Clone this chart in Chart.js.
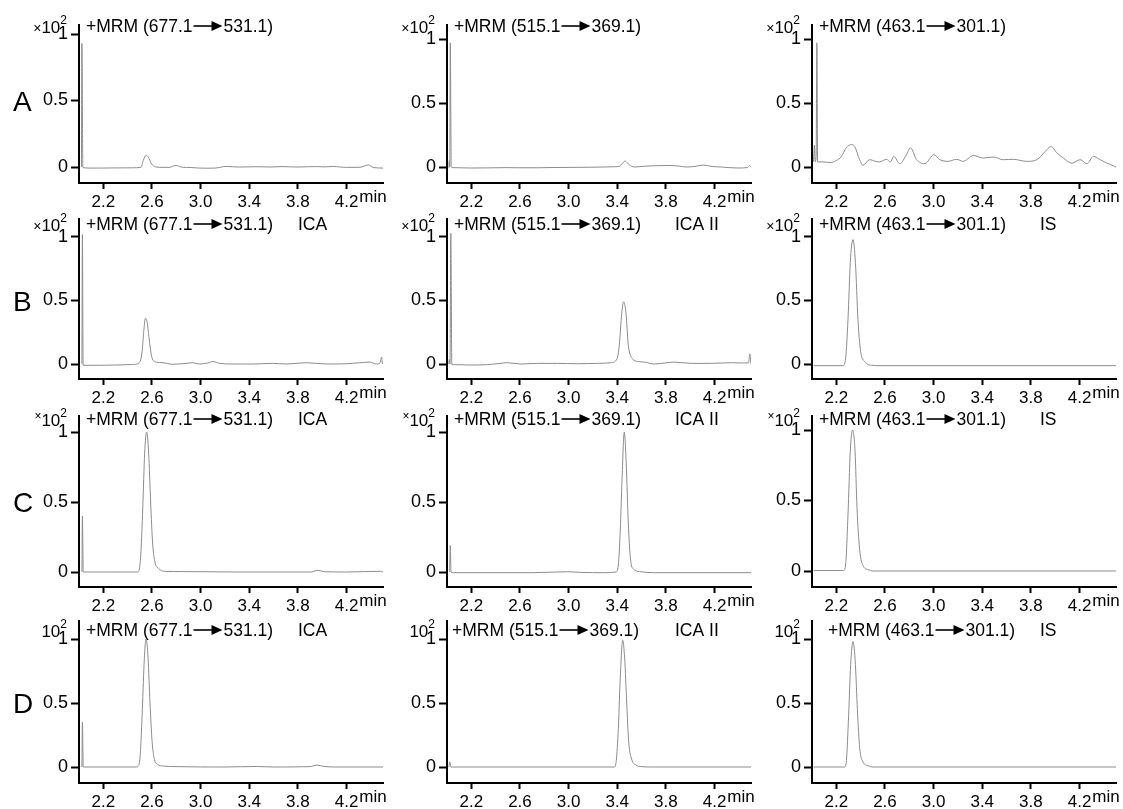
<!DOCTYPE html>
<html>
<head>
<meta charset="utf-8">
<script src="https://cdn.jsdelivr.net/npm/chart.js@4.4.1/dist/chart.umd.min.js"></script>
<style>
  body { margin: 0; background: #fff; }
  #root { position: relative; width: 1123px; height: 809px; overflow: hidden; }
  .panel { position: absolute; }
</style>
</head>
<body>
<div id="root"></div>
<script>
const FONT = "'Liberation Sans', Arial, sans-serif";

// axis ticks
const xTicks = [2.2, 2.6, 3.0, 3.4, 3.8, 4.2];
const yTicks = [0, 0.5, 1];
const timeRange = [2.0, 4.5];

// labels
const rowLetters = ["A", "B", "C", "D"];
const transitions = [["677.1", "531.1"], ["515.1", "369.1"], ["463.1", "301.1"]];
const compounds = ["ICA", "ICA II", "IS"];

// traces: [time (min), intensity (x10^2)]
const traceA1 = [[2.020,0.0],[2.024,0.93],[2.032,-0.005],[2.10,-0.008],[2.17,-0.008],[2.30,-0.007],[2.44,-0.006],[2.51,-0.002],[2.529,0.05],[2.551,0.088],[2.573,0.07],[2.592,0.03],[2.619,0.005],[2.66,-0.002],[2.74,-0.003],[2.797,0.012],[2.85,-0.002],[2.92,-0.004],[2.99,-0.008],[3.06,-0.009],[3.12,-0.008],[3.21,0.004],[3.31,0.0],[3.40,0.001],[3.48,0.002],[3.57,0.0],[3.67,0.003],[3.74,0.001],[3.81,0.0],[3.88,0.002],[3.95,0.003],[4.02,0.001],[4.09,0.004],[4.15,0.0],[4.20,-0.003],[4.31,-0.002],[4.38,0.015],[4.42,-0.004],[4.50,-0.008]];
const traceA2 = [[2.015,-0.005],[2.019,0.05],[2.023,0.0],[2.027,0.97],[2.035,0.0],[2.05,-0.005],[2.194,-0.008],[2.33,-0.007],[2.469,-0.005],[2.60,-0.006],[2.744,-0.006],[2.88,-0.004],[3.019,-0.003],[3.15,-0.002],[3.293,0.0],[3.38,0.002],[3.417,0.005],[3.44,0.025],[3.464,0.047],[3.48,0.035],[3.499,0.018],[3.54,0.0],[3.62,0.006],[3.705,0.01],[3.843,0.012],[3.98,0.0],[4.06,0.008],[4.104,0.015],[4.18,0.004],[4.255,0.0],[4.393,-0.008],[4.47,-0.004],[4.489,0.012],[4.50,0.0]];
const traceA3 = [[2.013,0.04],[2.02,0.17],[2.026,0.04],[2.034,0.08],[2.04,0.97],[2.046,0.04],[2.09,0.04],[2.15,0.035],[2.2,0.05],[2.24,0.08],[2.282,0.15],[2.324,0.175],[2.351,0.16],[2.392,0.057],[2.419,0.013],[2.474,0.057],[2.52,0.045],[2.557,0.04],[2.612,0.06],[2.645,0.04],[2.672,0.083],[2.722,0.026],[2.777,0.096],[2.81,0.15],[2.86,0.057],[2.928,0.026],[3.002,0.096],[3.052,0.057],[3.12,0.044],[3.189,0.06],[3.244,0.044],[3.326,0.09],[3.409,0.07],[3.491,0.078],[3.573,0.057],[3.656,0.06],[3.766,0.044],[3.849,0.057],[3.917,0.12],[3.964,0.16],[4.014,0.11],[4.068,0.07],[4.137,0.03],[4.206,0.057],[4.261,0.026],[4.315,0.083],[4.37,0.057],[4.426,0.03],[4.50,0.0]];
const traceB1 = [[2.024,0.0],[2.028,1.02],[2.034,-0.01],[2.167,-0.01],[2.30,-0.008],[2.44,-0.004],[2.496,0.01],[2.519,0.1],[2.532,0.25],[2.546,0.36],[2.56,0.33],[2.579,0.18],[2.60,0.05],[2.634,0.015],[2.69,0.01],[2.77,-0.002],[2.88,0.005],[2.935,0.01],[2.99,0.0],[3.06,0.008],[3.10,0.02],[3.155,0.005],[3.264,0.0],[3.43,0.0],[3.593,0.005],[3.703,0.0],[3.868,0.01],[4.033,0.0],[4.198,0.002],[4.307,0.01],[4.39,0.015],[4.444,0.0],[4.477,0.01],[4.488,0.055],[4.495,0.0]];
const traceB2 = [[2.015,0.0],[2.019,0.035],[2.025,0.0],[2.031,1.03],[2.04,-0.005],[2.052,-0.005],[2.194,-0.008],[2.332,-0.005],[2.42,0.003],[2.497,0.01],[2.606,0.0],[2.744,0.005],[2.909,0.005],[3.074,0.002],[3.239,0.005],[3.348,0.01],[3.398,0.04],[3.417,0.15],[3.437,0.4],[3.453,0.49],[3.472,0.4],[3.491,0.15],[3.527,0.04],[3.568,0.02],[3.623,0.015],[3.705,0.0],[3.79,0.008],[3.87,0.015],[4.008,0.005],[4.173,0.005],[4.338,0.01],[4.42,0.008],[4.48,0.01],[4.49,0.08],[4.50,0.0]];
const traceB3 = [[2.013,-0.013],[2.255,-0.013],[2.277,0.05],[2.296,0.35],[2.315,0.8],[2.337,0.98],[2.357,0.8],[2.378,0.35],[2.40,0.1],[2.433,0.02],[2.489,-0.01],[2.557,-0.013],[4.50,-0.013]];
const traceC1 = [[2.024,0.0],[2.028,0.40],[2.035,0.0],[2.30,0.0],[2.482,0.0],[2.496,0.02],[2.51,0.15],[2.524,0.45],[2.54,0.85],[2.556,1.0],[2.573,0.85],[2.589,0.5],[2.606,0.2],[2.625,0.07],[2.655,0.025],[2.702,0.005],[2.85,0.003],[3.3,0.0],[3.909,0.0],[3.964,0.012],[4.019,0.002],[4.2,0.0],[4.48,0.005],[4.50,0.0]];
const traceC2 = [[2.022,0.0],[2.027,0.19],[2.033,0.0],[2.05,-0.005],[2.70,-0.005],[2.991,0.002],[3.10,-0.003],[3.293,-0.005],[3.39,0.0],[3.409,0.05],[3.425,0.3],[3.439,0.65],[3.458,1.0],[3.475,0.75],[3.491,0.35],[3.508,0.1],[3.535,0.02],[3.582,0.003],[3.705,-0.005],[4.50,-0.005]];
const traceC3 = [[2.013,0.003],[2.26,0.003],[2.277,0.05],[2.296,0.4],[2.315,0.85],[2.334,1.0],[2.354,0.85],[2.37,0.45],[2.392,0.15],[2.419,0.04],[2.461,0.01],[2.502,0.0],[4.50,0.0]];
const traceD1 = [[2.024,0.0],[2.028,0.35],[2.035,0.0],[2.469,0.0],[2.49,0.01],[2.504,0.1],[2.519,0.4],[2.535,0.8],[2.551,1.0],[2.568,0.85],[2.584,0.5],[2.601,0.2],[2.62,0.06],[2.647,0.02],[2.688,0.008],[2.798,0.003],[3.2,0.0],[3.457,0.004],[3.6,0.0],[3.9,0.003],[3.957,0.015],[4.012,0.005],[4.1,0.0],[4.50,0.0]];
const traceD2 = [[2.015,0.0],[2.024,0.04],[2.032,0.0],[3.376,0.0],[3.392,0.05],[3.409,0.3],[3.425,0.7],[3.445,0.99],[3.461,0.85],[3.478,0.5],[3.494,0.2],[3.519,0.06],[3.554,0.015],[3.596,0.003],[3.70,0.0],[4.50,0.0]];
const traceD3 = [[2.013,0.0],[2.269,0.0],[2.283,0.05],[2.301,0.4],[2.318,0.8],[2.337,0.98],[2.357,0.8],[2.373,0.45],[2.392,0.15],[2.419,0.04],[2.461,0.01],[2.502,0.0],[4.50,0.0]];

const traces = [
  [traceA1, traceA2, traceA3],
  [traceB1, traceB2, traceB3],
  [traceC1, traceC2, traceC3],
  [traceD1, traceD2, traceD3],
];

// page layout (pixels)
const colAxisX = [79, 447, 812];
const plotW = 304;
const rowGeom = [
  { top: 25, bottom: 183, titleY: 32, y1: [34, 39, 39], y0: [167, 167, 167], mult: "x" },
  { top: 219, bottom: 379, titleY: 230, y1: [237, 237, 237], y0: [364, 364, 364], mult: "x" },
  { top: 416, bottom: 587, titleY: 425, y1: [432, 432, 430], y0: [572, 572, 571], mult: "xup" },
  { top: 621, bottom: 783, titleY: 636, y1: [639, 639, 639], y0: [767, 767, 767], mult: "none" },
];
const titleDx = [[7, 7, 7], [7, 7, 7], [7, 7, 7], [7, 5, 16]];
const compoundDx = [219, 228, 228];
const PAD_TOP = 30, Y_W = 79, X_H = 28, PAD_R = 20;

const root = document.getElementById("root");

function panelPlugin(r, c, canvasTop) {
  const g = rowGeom[r];
  return {
    id: "panelText",
    afterDraw(chart) {
      const { ctx, chartArea: ca } = chart;
      const ty = g.titleY - canvasTop;
      ctx.save();
      ctx.fillStyle = "#000";
      ctx.strokeStyle = "#000";
      ctx.textBaseline = "alphabetic";
      ctx.textAlign = "left";

      // +MRM (a -> b)
      ctx.font = `17.5px ${FONT}`;
      let x = ca.left + titleDx[r][c];
      const head = "+MRM (" + transitions[c][0];
      ctx.fillText(head, x, ty);
      x += ctx.measureText(head).width + 1;
      ctx.lineWidth = 1.6;
      ctx.beginPath();
      ctx.moveTo(x, ty - 6);
      ctx.lineTo(x + 22, ty - 6);
      ctx.stroke();
      ctx.beginPath();
      ctx.moveTo(x + 18, ty - 11);
      ctx.lineTo(x + 29, ty - 6);
      ctx.lineTo(x + 18, ty - 1);
      ctx.closePath();
      ctx.fill();
      ctx.fillText(transitions[c][1] + ")", x + 30, ty);
      if (r > 0) ctx.fillText(compounds[c], ca.left + compoundDx[c], ty);

      // x10^2 multiplier
      ctx.textAlign = "right";
      let rx = ca.left - 12;
      ctx.font = `12px ${FONT}`;
      ctx.fillText("2", rx, ty - 8);
      rx -= ctx.measureText("2").width;
      ctx.font = `17px ${FONT}`;
      ctx.fillText("10", rx, ty + 1);
      rx -= ctx.measureText("10").width;
      if (g.mult === "x") {
        ctx.font = `14px ${FONT}`;
        ctx.fillText("\u00d7", rx, ty + 1);
      } else if (g.mult === "xup") {
        ctx.font = `12px ${FONT}`;
        ctx.fillText("\u00d7", rx, ty - 5);
      }

      // "min" after the last time label
      ctx.textAlign = "left";
      ctx.font = `17px ${FONT}`;
      const x42 = chart.scales.x.getPixelForValue(4.2);
      const w = ctx.measureText("4.2").width;
      ctx.fillText("min", x42 + w / 2 + 1, ca.bottom + 19);

      // row letter
      if (c === 0) {
        ctx.font = `28px ${FONT}`;
        const yMid = (g.y0[0] + g.y1[0]) / 2 - canvasTop;
        ctx.fillText(rowLetters[r], 13, yMid + 10);
      }
      ctx.restore();
    },
  };
}

traces.forEach((rowTraces, r) => {
  rowTraces.forEach((trace, c) => {
    const g = rowGeom[r];
    const ax = colAxisX[c];
    const canvasLeft = ax - Y_W;
    const canvasTop = g.top - PAD_TOP;
    const w = Y_W + plotW + PAD_R;
    const h = g.bottom - g.top + PAD_TOP + X_H;

    // y range so that 0 and 1 land on the measured tick rows
    const k = g.y0[c] - g.y1[c];
    const yMin = -(g.bottom - g.y0[c]) / k;
    const yMax = (g.y0[c] - g.top) / k;

    const div = document.createElement("div");
    div.className = "panel";
    div.style.left = canvasLeft + "px";
    div.style.top = canvasTop + "px";
    const canvas = document.createElement("canvas");
    canvas.width = w;
    canvas.height = h;
    canvas.style.width = w + "px";
    canvas.style.height = h + "px";
    div.appendChild(canvas);
    root.appendChild(div);

    new Chart(canvas, {
      type: "line",
      data: {
        datasets: [
          {
            data: trace.map(([t, v]) => ({ x: t, y: v })),
            borderColor: "#8c8c8c",
            borderWidth: 1,
            pointRadius: 0,
            cubicInterpolationMode: "monotone",
            fill: false,
          },
        ],
      },
      options: {
        responsive: false,
        maintainAspectRatio: false,
        animation: false,
        devicePixelRatio: 1,
        layout: { padding: { top: PAD_TOP, right: PAD_R, left: 0, bottom: 0 } },
        scales: {
          x: {
            type: "linear",
            min: timeRange[0],
            max: timeRange[1],
            afterBuildTicks: (s) => { s.ticks = xTicks.map((v) => ({ value: v })); },
            afterFit: (s) => { s.height = X_H; },
            ticks: { font: { family: FONT, size: 17 }, color: "#000", padding: 3, autoSkip: false, maxRotation: 0, callback: (v) => v.toFixed(1) },
            grid: { drawOnChartArea: false, drawTicks: true, tickLength: 6, tickWidth: 2, tickColor: "#000" },
            border: { display: true, color: "#000", width: 2 },
          },
          y: {
            type: "linear",
            min: yMin,
            max: yMax,
            afterBuildTicks: (s) => { s.ticks = yTicks.map((v) => ({ value: v })); },
            afterFit: (s) => { s.width = Y_W; },
            ticks: { font: { family: FONT, size: 18 }, color: "#000", padding: 3, autoSkip: false, callback: (v) => String(v) },
            grid: { drawOnChartArea: false, drawTicks: true, tickLength: 8, tickWidth: 2, tickColor: "#000" },
            border: { display: true, color: "#000", width: 2 },
          },
        },
        plugins: { legend: { display: false }, tooltip: { enabled: false } },
      },
      plugins: [panelPlugin(r, c, canvasTop)],
    });
  });
});
</script>
</body>
</html>
